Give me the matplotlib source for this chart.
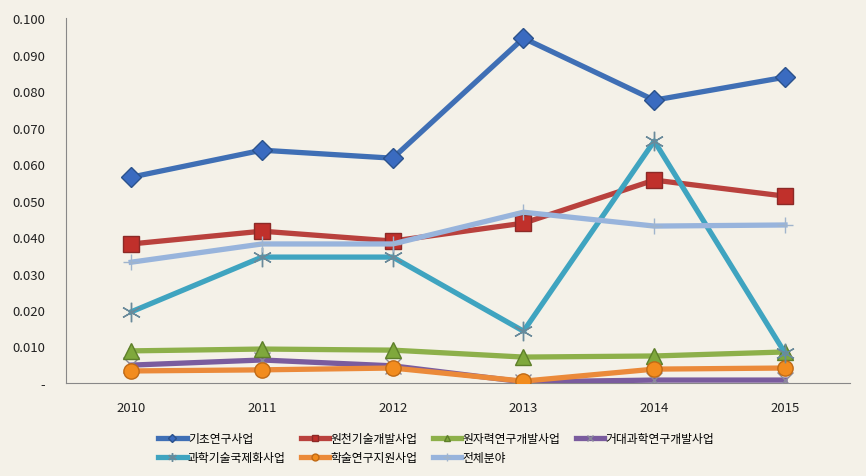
import numpy as np
import matplotlib.pyplot as plt
from matplotlib.ticker import FuncFormatter

plt.rcParams['font.family'] = ['Noto Sans CJK KR', 'DejaVu Sans']

years = ['2010', '2011', '2012', '2013', '2014', '2015']

# series values
basic = [0.0564, 0.0638, 0.0616, 0.0945, 0.0775, 0.0838]
source_tech = [0.0381, 0.0416, 0.0389, 0.0438, 0.0556, 0.0512]
nuclear = [0.0088, 0.0093, 0.0090, 0.0071, 0.0074, 0.0085]
big_science = [0.0049, 0.0063, 0.0047, 0.0003, 0.0008, 0.0008]
intl = [0.0195, 0.0345, 0.0345, 0.0142, 0.0663, 0.0082]
academic = [0.0033, 0.0036, 0.0041, 0.0005, 0.0038, 0.0041]
total = [0.0331, 0.0381, 0.0381, 0.0468, 0.0430, 0.0433]

names = ['기초연구사업', '원천기술개발사업', '원자력연구개발사업', '거대과학연구개발사업',
         '과학기술국제화사업', '학술연구지원사업', '전체분야']

bg = '#F4F1E8'
fig, ax = plt.subplots(figsize=(8.66, 4.77), dpi=100)
fig.patch.set_facecolor(bg)
ax.set_facecolor(bg)
fig.subplots_adjust(left=0.076, right=0.982, bottom=0.195, top=0.96)

x = np.arange(len(years))
lw = 3.8

ax.plot(x, basic, color='#3F6FB5', lw=lw, marker='D', ms=10,
        mfc='#3A6BC0', mec='#2B528C', label=names[0], zorder=5)
ax.plot(x, source_tech, color='#B9413D', lw=lw, marker='s', ms=11,
        mfc='#C0302B', mec='#8C2A27', label=names[1], zorder=4)
ax.plot(x, nuclear, color='#8DB04A', lw=lw, marker='^', ms=11,
        mfc='#7FA83C', mec='#5E7F2A', label=names[2], zorder=4)
ax.plot(x, big_science, color='#7A5C9E', lw=lw, marker='x', ms=11,
        mec='#8A8A9A', mew=1, label=names[3], zorder=3)
ax.plot(x, intl, color='#3FA4C0', lw=lw, marker=(6, 2, 0), ms=14,
        mec='#6A8A9A', mew=1, label=names[4], zorder=6)
ax.plot(x, academic, color='#EB8A3A', lw=lw, marker='o', ms=11,
        mfc='#F28C1E', mec='#C06A15', label=names[5], zorder=5)
ax.plot(x, total, color='#98B4DC', lw=lw, marker='+', ms=12,
        mec='#A0B4CC', mew=1, label=names[6], zorder=7)

ax.set_xlim(-0.5, 5.5)
ax.set_ylim(0, 0.1)
ax.set_xticks(x)
ax.set_xticklabels(years)
ax.set_yticks(np.arange(0, 0.1001, 0.01))
ax.yaxis.set_major_formatter(FuncFormatter(lambda v, p: '-' if abs(v) < 1e-9 else '%.3f' % v))
ax.tick_params(axis='both', length=0, labelsize=9.5, colors='#222222')
ax.tick_params(axis='y', pad=15)
ax.tick_params(axis='x', pad=13)

for s in ['top', 'right']:
    ax.spines[s].set_visible(False)
ax.spines['left'].set_color('#888888')
ax.spines['bottom'].set_color('#888888')

# legend filled row by row like the original
handles, labels = ax.get_legend_handles_labels()
order = [0, 4, 1, 5, 2, 6, 3]
fig.legend([handles[i] for i in order], [labels[i] for i in order],
           loc='upper left', bbox_to_anchor=(0.176, 0.105), ncol=4, frameon=False,
           fontsize=8.5, handlelength=2.4, columnspacing=1.3, handletextpad=0.1,
           labelspacing=0.55, markerscale=0.45, borderpad=0)

plt.savefig('out.png', dpi=100, facecolor=bg)
